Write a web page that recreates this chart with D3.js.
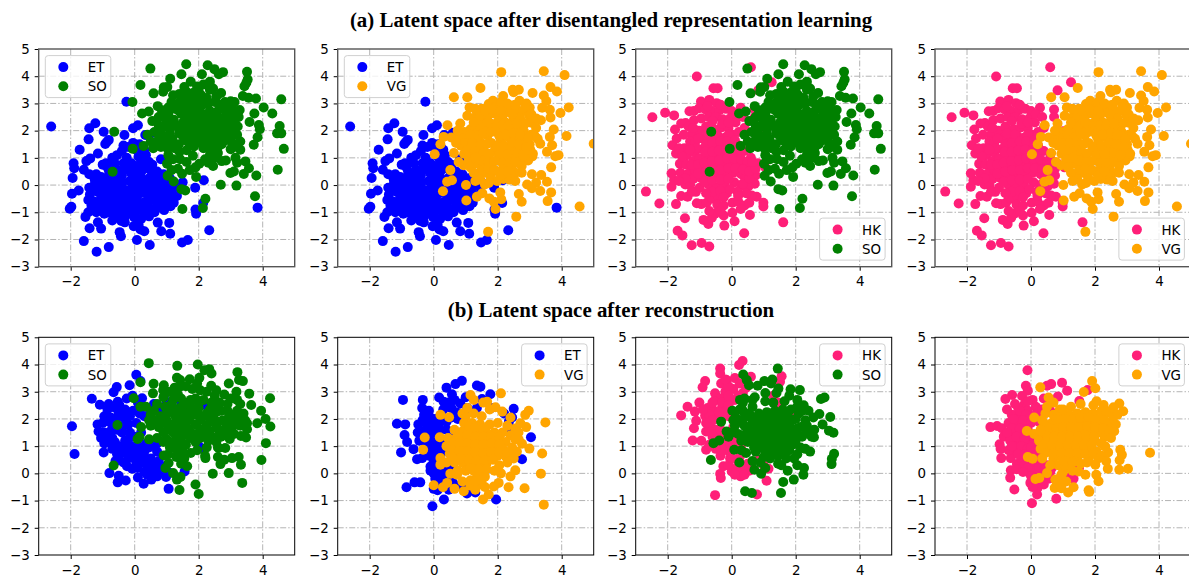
<!DOCTYPE html>
<html lang="en">
<head>
<meta charset="UTF-8">
<title>Latent space scatter plots</title>
<style>
    html, body { margin: 0; padding: 0; background: #fff; overflow: hidden; }
    .tick text { font-family: "DejaVu Sans", sans-serif; font-size: 13.4px; fill: #000; }
    .legend text { font-family: "DejaVu Sans", sans-serif; font-size: 13.4px; fill: #000; }
    .title { font-family: "Liberation Serif", serif; font-weight: bold; font-size: 20.9px; text-anchor: middle; fill: #000; }
    .grid line { stroke: #b4b4b4; stroke-width: 1; stroke-dasharray: 6 2 1.5 2; }
</style>
</head>
<body>
<div id="chart"></div>
<script src="https://d3js.org/d3.v7.min.js"></script>
<script>
// values, [x, y]
// upper row: the same four clouds are reused across the panels
const etTop = [[-2.61,2.15],[-0.26,3.06],[-1.23,2.27],[-1.42,2.09],[-0.97,1.96],[-1.44,1.68],[-0.81,1.66],[-0.92,1.51],[-0.87,1.58],[-1.72,1.3],[-1.15,1.16],[-1.39,0.98],[-1.51,0.88],[-1.91,0.8],[-1.89,0.62],[-1.59,0.56],[-1.94,0.26],[-1.96,-0.32],[-1.75,-0.2],[-2.03,-0.87],[-1.98,-0.8],[-1.54,-1.17],[-1.41,-1.59],[-1.15,-1.37],[-1.05,-1.6],[-1.59,-2.06],[-1.19,-2.45],[-0.81,-2.28],[-0.47,-1.73],[-0.43,-1.88],[0.07,-2.02],[0.47,-2.2],[1.48,-2.11],[1.66,-2.02],[2.33,-1.66],[1.11,-1.79],[0.83,-1.7],[1.08,-1.39],[0.3,-1.7],[0.18,-1.63],[-0.03,-1.51],[-0.31,-1.37],[3.84,-0.83],[1.9,-0.9],[1.92,-1.05],[2.14,-0.66],[1.89,-0.1],[2.16,0.18],[-0.32,1.84],[-0.05,2.09],[0.1,2.2],[0.33,1.84],[0.6,1.92],
[-1.0,0.75],[-0.9,0.8],[-0.7,1.0],[-0.55,1.1],[-0.4,1.25],[-0.35,1.45],[-0.2,1.4],[-0.05,1.55],[0.15,1.5],[0.3,1.3],[0.12,1.05],[0.28,0.98],[0.45,0.85],[0.82,0.95],[-0.28,0.6],[-0.55,0.55],[-0.8,0.5],[-1.3,0.35],[-1.42,0.4],[-1.2,0.4],[-1.05,0.3],[-0.85,0.25],[-0.62,0.3],[-0.4,0.35],[-0.12,0.45],[0.1,0.7],[0.3,0.6],[0.5,0.55],[0.7,0.5],[0.9,0.4],[1.1,0.25],[1.5,0.1],[1.4,-0.05],[-1.42,-0.1],[-1.25,0.02],[-1.05,0.05],[-0.82,0.0],[-0.6,0.08],[-0.38,0.1],[-0.15,0.15],[0.08,0.3],[0.25,0.2],[0.45,0.25],[0.68,0.18],[0.85,0.12],[1.02,0.02],[1.2,-0.1],[-1.4,-0.35],[-1.15,-0.25],[-0.95,-0.2],[-0.75,-0.25],[-0.52,-0.15],[-0.3,-0.18],[-0.1,-0.12],[0.12,-0.02],[0.32,-0.05],[0.55,-0.02],[0.75,-0.1],[0.95,-0.22],[1.15,-0.3],[1.32,-0.4],[-1.45,-0.55],[-1.28,-0.6],[-1.05,-0.48],[-0.88,-0.55],[-0.65,-0.5],[-0.42,-0.45],[-0.18,-0.42],[0.18,-0.3],[0.38,-0.32],[0.6,-0.28],[0.8,-0.42],[1.0,-0.55],[1.22,-0.65],[1.12,-0.78],[-1.3,-0.85],[-1.45,-1.0],[-1.2,-1.0],[-1.02,-0.82],[-0.82,-0.85],[-0.6,-0.78],[-0.35,-0.72],[-0.12,-0.65],[0.1,-0.6],[0.32,-0.62],[0.5,-0.55],[0.72,-0.68],[0.92,-0.92],[-0.95,-1.05],[-0.7,-1.05],[-0.45,-1.0],[-0.18,-0.95],[0.05,-0.88],[0.25,-0.95],[0.45,-0.82],[0.62,-1.0],[-0.7,-1.3],[-0.42,-1.32],[-0.02,-1.18],[0.2,-1.25],[0.45,-1.15],[0.72,-1.38],[0.12,-1.45],
[-1.3,-0.2],[-1.12,-0.65],[-0.9,-0.35],[-0.7,-0.1],[-0.5,-0.65],[-0.25,-0.3],[-0.02,-0.3],[0.2,-0.8],[0.42,0.05],[0.6,0.38],[0.2,0.48],[-0.02,0.05],[-0.95,0.15],[-0.72,0.42],[-0.48,0.2],[-0.25,-0.9],[0.5,-1.0],[0.0,0.6],[0.2,0.88],[0.35,1.1],[0.62,-0.42],[0.85,-0.2],[-1.15,-0.78],[-0.8,-1.0],[-0.55,-1.15],[-0.3,-1.15],[0.0,-1.05],[0.85,0.25],[0.55,0.75],[-0.85,0.65],[-0.62,0.8],[-0.25,1.0],[-0.1,0.8],[0.05,1.3],
[-1.35,-0.75],[-1.0,-0.65],[-0.75,-0.7],[-1.1,0.2],[-0.6,-0.32],[-0.38,-0.6],[-0.05,-0.5],[0.45,-0.15],[0.65,0.05],[0.95,-0.05],[1.05,-0.4],[0.9,-0.65],[0.68,-0.85],[0.3,-1.1],[-0.1,-0.8],[-0.45,-0.85],[-0.9,-0.9],[-0.55,-0.02],[-1.25,0.2],[0.25,0.05],[0.05,0.15],[-0.35,0.8],[-0.7,0.15],[0.75,0.35]];
const soTop = [[0.49,4.28],[1.61,4.44],[2.28,4.4],[2.49,4.26],[2.63,4.07],[2.76,4.15],[2.1,4.07],[1.46,4.07],[1.11,3.91],[3.51,4.16],[3.53,3.88],[3.49,3.76],[3.43,3.63],[0.18,3.68],[0.59,3.37],[-0.07,3.05],[0.91,3.59],[1.02,3.6],[0.89,3.43],[4.58,3.15],[3.38,3.27],[3.56,3.21],[3.79,3.18],[4.03,2.85],[4.3,2.63],[3.28,2.76],[3.74,2.63],[3.59,2.32],[3.88,2.21],[3.91,2.05],[3.84,1.76],[3.72,1.48],[4.53,2.17],[4.45,1.9],[4.58,1.9],[4.66,1.33],[4.47,0.56],[3.8,0.35],[3.76,-0.41],[3.18,-0.02],[2.69,0.01],[2.21,-0.5],[2.13,-0.84],[1.49,-0.88],[1.46,-0.15],[1.58,-0.2],[1.22,0.13],[1.03,0.34],[1.01,0.78],[-0.69,0.49],[-0.64,1.96],[-0.06,1.33],[0.23,2.63],[0.44,2.7],[0.28,1.44],[3.46,0.87],[3.57,0.62],[3.41,0.41],[2.99,0.44],[3.1,0.5],[3.2,0.82],
[1.4,3.35],[1.55,3.6],[1.75,3.8],[1.95,3.62],[2.15,3.7],[2.35,3.8],[2.45,3.55],[2.7,3.38],[1.2,3.3],[1.15,3.05],[1.62,3.2],[1.85,3.4],[2.08,3.3],[2.25,3.2],[2.55,3.25],[0.72,2.9],[0.85,2.75],[1.05,2.62],[1.3,2.9],[1.5,2.95],[1.72,3.0],[1.95,3.02],[2.12,2.95],[2.65,2.95],[2.82,3.05],[3.0,3.08],[3.12,3.05],[0.55,2.35],[0.75,2.5],[0.98,2.38],[1.22,2.4],[1.45,2.62],[1.65,2.7],[1.85,2.72],[2.08,2.65],[2.35,2.72],[2.58,2.7],[2.72,2.82],[2.95,2.7],[3.05,2.55],[0.62,1.95],[0.85,2.1],[1.1,2.05],[1.32,2.15],[1.52,2.32],[1.72,2.4],[1.92,2.42],[2.12,2.4],[2.32,2.45],[2.52,2.38],[2.72,2.45],[2.9,2.32],[3.12,2.32],[3.22,2.15],[0.4,1.85],[0.5,1.6],[0.72,1.62],[0.92,1.78],[1.18,1.7],[1.4,1.9],[1.6,2.0],[1.8,2.12],[2.0,2.1],[2.2,2.15],[2.42,2.12],[2.62,2.1],[2.82,2.12],[3.05,2.05],[3.2,1.85],[0.58,1.35],[0.82,1.4],[1.02,1.35],[1.38,1.5],[1.58,1.65],[1.78,1.78],[1.98,1.85],[2.18,1.82],[2.38,1.85],[2.58,1.8],[2.78,1.85],[2.98,1.68],[1.4,1.22],[1.62,1.28],[1.85,1.42],[2.05,1.55],[2.25,1.5],[2.48,1.52],[2.72,1.5],[3.1,1.4],[3.0,1.32],[3.3,1.3],[1.2,0.95],[1.42,0.95],[1.62,0.85],[1.82,1.08],[2.02,0.78],[2.3,0.82],[2.45,0.7],[2.6,1.18],[2.72,0.88],[2.85,0.9],[1.15,0.55],[1.35,0.6],[1.48,0.42],[1.72,0.55],[1.92,0.3],[2.5,1.0],[3.15,1.0],
[1.55,2.85],[1.75,2.85],[2.0,2.8],[2.25,2.6],[1.6,2.5],[1.8,2.55],[2.0,2.5],[2.45,2.55],[1.5,2.15],[1.7,2.2],[1.9,2.25],[2.1,2.25],[2.3,2.3],[2.55,2.25],[2.75,2.28],[1.5,1.8],[1.7,1.9],[1.9,2.0],[2.1,1.95],[2.3,2.0],[2.5,1.95],[2.7,1.95],[2.9,1.95],[1.7,1.55],[1.9,1.65],[2.15,1.7],[2.35,1.65],[2.6,1.62],[2.85,1.65],[2.15,1.35],[2.35,1.3],[2.6,1.4],[1.1,1.9],[0.95,1.6],[1.2,1.5],[1.25,2.25],[1.35,2.75],[1.0,2.25],[1.65,3.4],[2.0,3.45],[2.35,3.5],[2.3,3.0],
[0.75,2.2],[0.9,2.6],[1.15,2.8],[2.85,2.55],[3.1,2.75],[3.25,2.5],[3.0,1.85],[3.3,1.6],[3.05,1.55],[0.75,1.85],[1.05,1.1],[1.25,1.35],[1.05,2.85],[2.5,3.05],[2.9,2.85],[1.4,3.05],[2.05,3.15],[1.8,3.2],[2.35,1.1],[1.9,0.65],[2.2,0.95]];
const vgTop = [[2.11,4.15],[3.44,4.18],[4.09,4.04],[1.46,3.57],[2.47,3.5],[2.5,3.41],[2.66,3.5],[3.65,3.6],[3.85,3.44],[3.44,3.29],[3.52,3.09],[3.09,3.38],[0.63,3.23],[1.05,3.23],[2.17,3.27],[4.22,2.85],[3.39,2.84],[3.63,2.77],[3.65,2.48],[3.96,2.65],[3.35,2.38],[3.1,2.28],[3.75,2.04],[4.15,1.8],[3.63,1.77],[3.33,1.52],[3.7,1.46],[3.54,1.22],[3.8,1.06],[3.9,1.1],[5,1.52],[3.67,0.65],[3.07,0.4],[3.36,0.37],[3.54,0.12],[2.92,0.02],[3.2,0.09],[3.07,-0.12],[3.33,-0.22],[3.67,-0.27],[3.56,-0.59],[4.56,-0.79],[2.66,-0.33],[2.75,-0.61],[2.08,-0.27],[2.11,-0.52],[1.74,-0.49],[1.88,-0.61],[1.93,-0.88],[2.58,-1.16],[1.7,-1.72],[0.29,-0.23],[1.01,0],[1.02,-0.57],[0.42,0.12],[0.57,0.18],[0.52,0.55],[0.03,1.13],[0.63,1.18],[0.21,1.5],[0.31,1.77],[0.43,2.2],[0.83,2.26],[0.94,0.73],[0.78,0.85],[1.35,-0.43],[1.52,-0.3],[1.6,0.02],
[1.12,2.85],[1.05,2.55],[1.3,2.5],[1.5,2.8],[1.72,2.98],[1.85,3.1],[1.95,2.9],[2.22,2.85],[2.45,2.92],[2.68,3.1],[2.9,3.0],[3.0,2.85],[1.3,2.2],[1.5,2.35],[1.7,2.55],[1.92,2.62],[2.15,2.55],[2.35,2.68],[2.6,2.75],[2.8,2.72],[2.98,2.55],[3.02,2.3],[0.95,1.95],[1.15,2.05],[1.38,1.92],[1.6,2.1],[1.8,2.25],[2.02,2.35],[2.25,2.3],[2.5,2.4],[2.7,2.45],[2.85,2.25],[0.55,1.75],[0.78,1.75],[1.0,1.72],[1.22,1.62],[1.45,1.6],[1.68,1.82],[1.95,1.95],[2.2,2.0],[2.42,2.1],[2.62,2.05],[2.82,1.98],[3.05,1.85],[3.15,1.82],[0.85,1.45],[1.1,1.4],[1.3,1.38],[1.55,1.3],[1.8,1.55],[2.1,1.62],[2.35,1.75],[2.6,1.72],[2.78,1.6],[3.0,1.5],[3.02,1.3],[0.95,1.15],[1.2,1.15],[1.42,1.05],[1.65,1.0],[1.9,1.25],[2.18,1.28],[2.45,1.35],[2.72,1.3],[2.92,1.22],[3.08,1.05],[2.95,0.9],[1.1,0.95],[1.32,0.78],[1.55,0.7],[1.8,0.75],[2.02,0.92],[2.25,0.95],[2.5,1.05],[2.7,0.95],[1.38,0.38],[1.6,0.45],[1.78,0.3],[2.0,0.5],[2.2,0.65],[2.45,0.7],[2.55,0.45],[2.38,0.2],[1.98,0.15],[1.72,0.08],[2.18,0.22],[2.4,0.42],
[1.45,2.55],[1.6,2.72],[1.85,2.78],[2.1,2.75],[2.45,2.6],[1.45,2.15],[1.7,2.3],[1.95,2.15],[2.15,2.2],[2.35,2.2],[2.6,2.25],[1.15,1.85],[1.35,1.75],[1.55,1.9],[1.8,1.95],[2.05,1.8],[2.25,1.85],[2.5,1.9],[2.7,1.85],[2.95,1.7],[1.0,1.55],[1.2,1.55],[1.45,1.45],[1.65,1.5],[1.95,1.4],[2.2,1.45],[2.45,1.55],[2.65,1.5],[2.9,1.4],[1.05,1.28],[1.3,1.25],[1.55,1.15],[1.75,1.15],[2.05,1.1],[2.3,1.12],[2.6,1.15],[2.8,1.1],[1.5,0.9],[1.72,0.85],[1.9,0.88],[2.15,0.8],[2.35,0.78],[2.55,0.85],[1.5,0.55],[1.7,0.6],[1.9,0.55],[2.1,0.35],[2.3,0.5],
[2.85,2.85],[2.55,2.95],[3.05,2.6],[3.2,2.45],[3.2,2.1],[3.25,1.7],[3.1,1.15],[1.25,2.3],[1.3,2.8],[0.7,1.55],[0.75,2.0],[1.3,1.0],[1.15,0.65],[1.25,0.45],[2.1,3.05],[2.3,3.0],[2.75,0.7],[2.75,0.45],[2.55,0.15],[1.45,0.2],[1.3,0.15]];
const hkTop = [[-2.68,-0.24],[-2.26,-0.68],[-1.74,-0.7],[-2.48,2.49],[-2.08,2.66],[-1.8,2.56],[-1.09,3.99],[-0.57,3.56],[-0.44,3.56],[0.6,4.33],[1.25,3.78],[0.83,3.48],[-1.46,-1.22],[-1.69,-1.68],[-1.54,-1.85],[-1.25,-2.21],[-0.94,-2.13],[-0.7,-2.26],[-0.23,-1.49],[0.39,-1.77],[0.09,-1.33],[0.57,-1.1],[1.61,-1.37],[0.99,-0.65],[0.99,-0.79],[0.78,-0.43],[0.62,-0.38],[-0.73,-1.43],[-0.88,-1.28],[-0.62,-1.2],[-1.88,-0.06],[-1.8,0.18],[-1.88,0.43],[-1.58,-0.4],[-1.38,-0.43],[-1.09,-0.67],[-1.85,1.46],[-1.74,1.16],[-1.72,1.71],[-1.77,2.04],[-1.58,2.26],[-1.44,2.28],[-1.32,2.71],[-0.96,3.07],[-0.7,3.13],[-0.47,3.01],[0.28,2.84],[0.72,2.78],[0.72,2.5],[1.0,1.98],[1.05,0.65],[0.75,0.35],
[-1.18,2.72],[-1.02,2.82],[-0.82,2.78],[-0.62,2.72],[-0.38,2.75],[-0.18,2.8],[0.0,2.72],[-1.35,2.15],[-1.18,2.38],[-0.95,2.45],[-0.72,2.5],[-0.5,2.5],[-0.28,2.42],[-0.05,2.45],[0.12,2.3],[-1.25,1.85],[-1.02,2.0],[-0.8,2.15],[-0.55,2.05],[-0.32,2.12],[-0.1,2.1],[-1.48,1.35],[-1.3,1.6],[-1.15,1.55],[-0.9,1.7],[-0.62,1.72],[-0.42,1.8],[-0.2,1.75],[0.02,1.85],[0.22,1.95],[-1.4,1.1],[-1.15,1.2],[-0.92,1.32],[-0.72,1.42],[-0.48,1.42],[-0.25,1.45],[-0.02,1.5],[0.22,1.45],[-1.62,0.78],[-1.42,0.75],[-1.2,0.88],[-1.0,0.98],[-0.78,1.05],[-0.55,1.08],[-0.3,1.12],[-0.08,1.18],[0.18,1.1],[0.4,1.25],[0.6,1.0],[0.82,0.8],[-1.6,0.45],[-1.35,0.42],[-1.15,0.55],[-0.92,0.62],[-0.7,0.7],[-0.48,0.72],[-0.25,0.78],[0.0,0.82],[0.22,0.8],[0.45,0.72],[0.62,0.6],[-1.45,0.02],[-1.3,0.0],[-1.2,0.22],[-0.95,0.25],[-0.72,0.35],[-0.48,0.38],[-0.2,0.4],[0.05,0.45],[0.3,0.4],[0.42,0.25],[0.72,0.05],[-1.12,-0.25],[-1.0,-0.1],[-0.72,0.02],[-0.48,-0.08],[-0.22,0.0],[0.08,0.1],[0.3,-0.02],[0.52,-0.05],[-0.95,-0.7],[-0.78,-0.65],[-0.62,-0.5],[-0.42,-0.42],[-0.15,-0.3],[0.18,-0.25],[0.45,-0.3],[-0.45,-0.72],[-0.25,-0.75],[0.02,-0.65],[0.2,-0.6],[0.4,-0.75],[0.55,-0.65],[-0.52,-1.05],[-0.25,-1.12],[0.02,-1.02],[0.28,-0.88],
[-0.6,2.35],[-0.3,2.25],[-0.1,2.3],[-0.75,1.9],[-0.5,1.85],[-0.1,1.85],[-1.05,1.7],[-0.8,1.5],[-0.6,1.55],[-0.35,1.6],[-0.15,1.6],[0.1,1.65],[-1.1,1.35],[-1.3,1.3],[-0.82,1.22],[-0.6,1.22],[-0.4,1.28],[-0.18,1.3],[0.05,1.25],[0.3,1.25],[-1.25,0.75],[-1.05,0.75],[-0.85,0.82],[-0.62,0.88],[-0.38,0.92],[-0.15,0.98],[0.08,0.98],[0.3,0.95],[0.5,0.85],[-1.05,0.42],[-0.8,0.5],[-0.58,0.55],[-0.35,0.55],[-0.1,0.62],[0.12,0.62],[0.35,0.58],[-0.85,0.12],[-0.6,0.18],[-0.35,0.2],[-0.1,0.22],[-0.6,-0.25],[-0.35,-0.22],[-0.05,-0.15],
[-1.55,1.05],[-1.65,1.35],[-1.5,1.85],[-1.2,2.1],[-0.75,2.9],[-0.35,2.95],[0.15,2.6],[0.35,2.5],[0.4,2.1],[-1.45,0.25],[-1.65,0.15],[-1.25,-0.25],[-0.8,-0.3],[-0.25,-0.45],[0.35,0.05],[0.55,0.25],[0.55,0.5],[0.75,0.6],[0.65,0.85],[0.2,-0.4],[-0.7,-0.95],[-0.35,-0.95]];

// lower row: each panel has its own pair of clouds
const etLow1 = [[0.05,3.62],[0.18,3.39],[-0.16,3.24],[-0.56,3.17],[-0.66,2.98],[-1.34,2.74],[-1.09,2.52],[-0.81,2.55],[-0.53,2.63],[-0.48,2.51],[-0.07,2.85],[0.23,2.76],[-1.96,1.73],[-1.88,0.71],[-1.16,1.8],[-1.13,1.54],[-0.79,0.01],[-0.5,-0.09],[-0.53,-0.33],[-0.28,-0.26],[0.28,-0.38],[0.52,-0.23],[1.06,-0.57],[-0.97,0.77],[-0.81,1.17],[-0.89,2.09],[0.91,2.82],[-0.24,0.26],[-0.08,0.17],[0.09,0.2],[0.39,-0.05],[0.7,-0.11],[0.98,-0.13],[1.56,0.07],[-0.85,2.35],[-0.8,1.9],[-0.95,1.5],[-0.7,1.3],[-0.55,1.6],[-0.35,2.05],[-0.2,1.8],[-0.05,2.3],[0.1,2.6],[0.15,2.2],[-0.7,0.9],[-0.5,1.0],[-0.3,1.2],[-0.5,0.55],[-0.3,0.75],[-0.1,1.0],[-0.6,1.95],[-0.4,1.5],[-0.15,1.5],[0.05,1.85],[0.1,1.0],[0.3,0.8],[0.25,0.4],[0.5,0.55],[0.45,0.95],[0.7,0.8],[0.75,0.45],[0.6,2.55],[0.8,2.4],[1.0,2.6],[1.45,2.6],[1.7,2.5],[2.2,2.5],[2.5,2.3],[1.5,2.2],[2.0,1.0],[2.15,0.9],
[-0.95,1.1],[-0.75,1.55],[-0.62,1.15],[-0.45,0.8],[-0.55,0.7],[-0.35,0.95],[-0.2,0.55],[-0.05,0.6],[0.1,0.7],[0.0,1.35],[-0.2,1.25],[-0.35,1.75],[-0.15,2.1],[0.1,2.35],[0.3,2.1],[-0.7,1.65],[-0.85,1.35],[-0.75,2.05],[-0.5,2.2],[-0.3,2.35],[0.2,1.5],[0.15,0.5],[0.4,0.25],[0.6,0.2],[0.8,0.3],[0.55,1.05],[0.7,1.1],[0.35,1.1],[-0.1,0.85],[0.05,0.4],
[-1.0,1.85],[-1.05,1.3],[-0.95,2.1],[-0.6,2.4],[-0.25,2.75],[0.3,2.45],[0.5,2.3],[-0.6,0.45],[-0.35,0.4],[0.1,-0.15],[0.3,0.05],[0.55,0.0],[0.5,0.35],[0.8,0.05],[1.05,0.05],[0.25,0.6]];
const soLow1 = [[0.44,4.05],[1.33,3.95],[1.97,4.0],[2.33,3.83],[2.4,3.67],[2.18,3.79],[3.21,3.72],[3.26,3.43],[3.38,3.39],[1.32,3.51],[1.42,3.43],[1.72,3.46],[2.02,3.51],[1.95,3.3],[0.18,3.35],[0.59,3.29],[0.91,3.24],[2.94,3.3],[2.39,3.22],[0.57,2.94],[0.89,3.06],[-0.03,2.76],[3.18,3.0],[3.58,2.93],[4.23,2.76],[3.64,2.51],[3.95,2.3],[4.09,2.0],[3.83,1.84],[4.24,1.72],[4.1,1.11],[3.96,0.49],[3.48,1.32],[3.32,1.37],[3.51,1.84],[3.51,1.62],[3.32,0.32],[3.36,-0.35],[2.94,0.01],[2.44,-0.01],[1.9,-0.41],[2,-0.76],[1.4,-0.61],[1.43,-0.13],[1.32,-0.23],[1.2,0.01],[-0.66,0.29],[-0.54,1.78],[0.09,1.26],[0.18,2.45],[0.35,2.45],[3.25,0.6],[3.04,0.56],[2.68,0.34],[2.21,0.56],[1.64,0.26],[0.96,0.2],[1.06,0.38],[0.91,0.66],[2.83,0.93],[2.63,0.93],[2.97,1.26],[2.94,1.48],
[1.1,3.0],[1.25,3.15],[1.35,2.9],[1.6,3.2],[1.8,3.1],[2.25,3.0],[2.5,2.85],[2.8,2.9],[3.2,2.7],[3.3,2.55],[1.2,2.7],[1.45,2.75],[1.9,2.75],[2.15,2.7],[2.65,2.6],[2.9,2.55],[0.7,2.55],[0.95,2.45],[1.15,2.35],[1.4,2.4],[1.75,2.45],[2.0,2.4],[2.35,2.35],[2.7,2.3],[3.05,2.15],[3.4,2.2],[0.5,2.15],[0.8,2.1],[1.0,1.95],[1.3,2.0],[1.55,2.1],[1.85,2.15],[2.15,2.1],[2.45,2.05],[2.75,1.95],[3.2,1.95],[3.3,1.75],[0.2,1.7],[0.5,1.75],[0.75,1.7],[1.05,1.6],[1.35,1.65],[1.6,1.75],[1.9,1.8],[2.25,1.75],[2.55,1.7],[2.85,1.7],[3.05,1.7],[0.15,1.35],[0.45,1.25],[0.7,1.3],[1.0,1.25],[1.3,1.3],[1.55,1.4],[1.85,1.45],[2.15,1.45],[2.4,1.35],[2.7,1.35],[1.2,0.95],[1.4,0.9],[1.6,1.05],[1.9,1.15],[2.25,0.95],[1.05,0.7],[1.3,0.6],[1.55,0.55],[1.45,0.35],[2.6,0.6],[2.8,0.5],
[0.9,2.8],[1.15,2.55],[1.55,2.55],[1.75,2.7],[2.0,2.6],[2.4,2.6],[2.6,2.4],[1.0,2.2],[1.25,2.15],[1.5,2.25],[1.7,2.25],[1.95,2.2],[2.25,2.2],[2.55,2.25],[2.9,2.3],[0.65,1.95],[0.9,1.85],[1.15,1.8],[1.45,1.85],[1.7,1.95],[2.05,1.95],[2.35,1.9],[2.6,1.9],[2.9,1.95],[0.9,1.5],[1.2,1.5],[1.45,1.55],[1.7,1.6],[2.05,1.6],[2.35,1.55],[2.65,1.55],[2.85,1.4],[1.45,1.15],[1.75,1.3],[2.05,1.3],[2.3,1.2],[2.55,1.3],[1.2,1.15],[1.1,0.95],[1.35,0.75],[1.5,0.8],[2.55,1.15],[3.0,2.0],
[0.45,1.95],[0.6,2.3],[0.95,2.95],[1.45,3.2],[2.05,3.05],[2.55,3.05],[3.0,2.75],[3.2,2.3],[3.1,1.45],[2.2,0.65],[2.6,0.95],[1.75,0.75],[1.95,0.85],[0.9,1.15],[3.2,2.05],[3.45,1.95],[2.95,2.1]];
const etLow2 = [[0.88,3.4],[0.68,3.28],[0.4,3.15],[0.57,2.91],[1.35,3.23],[1.46,3.18],[1.77,2.91],[-0.96,2.7],[-0.34,2.7],[0.17,2.79],[0.31,2.63],[0.83,2.57],[1.51,2.73],[2.5,2.37],[2.45,2.05],[-1.15,1.82],[-0.89,1.8],[-0.91,1.41],[-0.83,1.15],[-1.02,0.77],[-0.63,0.89],[-0.52,0.52],[-0.36,0.56],[3.04,1.33],[2.55,1.33],[2.76,0.52],[-0.85,-0.51],[-0.6,-0.33],[-0.42,-0.33],[0,-0.57],[0.12,-0.62],[0.32,-0.96],[-0.04,-1.21],[1.95,-0.96],[1.04,-0.74],[1.3,-0.7],[0.83,-0.44],[0.47,-0.6],
[-0.36,2.4],[-0.3,2.15],[-0.15,2.3],[-0.48,1.8],[-0.2,1.9],[0.05,2.0],[0.3,2.35],[0.55,2.4],[0.7,2.25],[-0.5,1.5],[-0.3,1.55],[-0.1,1.6],[0.15,1.75],[-0.45,1.2],[-0.25,1.1],[-0.05,1.3],[0.15,1.5],[-0.1,0.9],[0.1,1.05],[0.05,0.65],[0.25,0.75],[-0.1,0.25],[0.1,0.4],[0.0,0.0],[0.15,0.1],[0.05,-0.2],[0.25,-0.3],[0.4,-0.1],[0.4,1.9],[1.05,2.4],[1.8,2.4],[2.2,2.2],[2.35,1.9],
[-0.35,1.95],[-0.2,1.7],[0.0,1.75],[-0.35,1.35],[-0.1,1.4],[0.1,1.3],[0.3,1.2],[-0.25,0.9],[-0.05,1.05],[0.2,0.95],[-0.15,0.65],[0.0,0.45],[0.15,0.55],[0.3,0.2],[0.1,-0.05],[0.2,-0.45],[0.55,2.05],[0.4,1.6],[0.2,2.1],[0.75,2.0],[0.45,2.6],[0.8,2.2],[-0.1,2.05],
[0.5,1.3],[0.35,0.95],[0.5,0.2],[0.3,-0.05],[0.6,-0.35],[0.35,-0.35],[0.9,-0.5],[-0.1,0.1],[0.05,1.0],[0.3,2.0],[0.65,2.7],[1.0,2.8],[1.35,2.4],[2.45,1.55]];
const vgLow2 = [[2.1,2.94],[1.15,2.88],[1.25,2.7],[2.97,2.3],[2.86,2.15],[3.49,1.87],[2.89,1.7],[2.71,1.84],[0.21,2.15],[0.48,2.06],[-0.28,1.32],[-0.33,0.87],[0.19,1.33],[2.99,0.91],[3.39,0.73],[3.35,-0.01],[3.44,-1.15],[2.84,-0.55],[2.34,-0.51],[2.4,-0.11],[2.55,0.11],[2.66,1.23],[2.76,1.09],[1.54,-0.96],[1.72,-0.78],[2.03,-0.35],[1.88,-0.48],[0,-0.44],[0.29,-0.51],[0.42,-0.35],[0.65,-0.57],[0.94,-0.66],[0.52,-0.01],[0.73,-0.05],[0.21,0.32],[0.21,0.56],[1.67,2.63],[1.93,2.43],[2.14,2.27],[1.55,2.6],[1.75,2.35],
[1.0,2.1],[1.25,2.2],[1.5,2.1],[0.95,1.85],[1.2,1.85],[1.45,1.8],[1.75,1.8],[2.0,1.85],[2.3,1.75],[2.55,1.65],[0.65,1.6],[0.9,1.55],[1.15,1.55],[1.4,1.5],[1.65,1.5],[1.9,1.5],[2.15,1.5],[2.4,1.4],[0.45,1.3],[0.7,1.3],[0.95,1.25],[1.2,1.25],[1.45,1.2],[1.7,1.25],[1.95,1.2],[2.25,1.15],[0.4,1.0],[0.65,1.0],[0.9,0.95],[1.15,0.95],[1.4,0.9],[1.65,0.95],[1.9,0.9],[2.15,0.9],[2.45,0.95],[0.5,0.72],[0.75,0.7],[1.0,0.65],[1.25,0.65],[1.5,0.6],[1.75,0.65],[2.0,0.65],[2.25,0.62],[2.45,0.7],[0.4,0.4],[0.65,0.4],[0.9,0.38],[1.15,0.35],[1.4,0.32],[1.65,0.35],[2.05,0.3],[2.3,0.4],[1.0,0.1],[1.25,0.1],[1.5,0.08],[1.35,-0.15],[1.6,-0.12],[1.15,-0.25],[1.45,-0.4],[1.3,-0.6],[1.15,-0.45],[1.6,-0.5],[2.1,0.0],
[1.1,1.7],[1.3,1.7],[1.55,1.65],[0.8,1.4],[1.05,1.4],[1.3,1.35],[1.55,1.35],[1.8,1.35],[2.05,1.35],[0.55,1.15],[0.8,1.1],[1.05,1.1],[1.3,1.05],[1.55,1.05],[1.8,1.1],[2.05,1.05],[0.55,0.85],[0.8,0.82],[1.05,0.8],[1.3,0.78],[1.55,0.75],[1.8,0.78],[2.05,0.78],[2.3,0.78],[0.6,0.55],[0.85,0.55],[1.1,0.5],[1.35,0.48],[1.6,0.48],[1.85,0.5],[1.15,0.2],[1.4,0.15],[1.65,0.15],[1.3,-0.3],[1.5,-0.25],
[2.65,1.5],[0.9,2.2],[1.05,2.4],[2.4,2.05],[2.55,1.25],[2.6,0.8],[2.5,0.55],[1.9,0.1],[0.9,-0.3],[0.75,0.1]];
const hkLow3 = [[0.34,4.13],[0.23,3.98],[-0.36,3.85],[-0.36,3.67],[1.56,3.57],[1.51,3.37],[0.6,3.55],[-0.83,3.39],[-0.91,3.16],[-0.16,3.43],[-0.33,3.3],[-1.38,2.45],[-1.58,2.13],[-1.01,2.6],[-1.15,2.27],[-1.11,1.93],[-1.18,1.66],[-1.22,1.21],[-0.8,0.87],[-0.83,2.12],[-0.8,1.54],[-0.52,2.94],[-0.52,-0.8],[-0.36,-0.02],[-0.34,-0.17],[0.28,-0.11],[1.09,-0.27],[0.79,-0.78],[0,0.07],[0.16,0.2],[-0.26,0.26],[1.15,0.17],
[0.1,3.5],[0.25,3.3],[0.05,3.1],[-0.2,3.0],[0.35,2.95],[-0.35,2.75],[-0.55,2.65],[-0.75,2.4],[-0.55,2.3],[-0.3,2.45],[-0.05,2.65],[-0.5,2.0],[-0.25,2.1],[-0.65,1.75],[-0.45,1.6],[-0.6,1.35],[-0.35,1.3],[-0.15,1.1],[-0.15,0.85],[-0.35,0.65],[-0.05,0.55],[-0.1,0.3],[0.25,0.6],[1.3,2.85],[1.45,2.6],[2.0,2.15],[2.35,1.5],[0.85,0.5],[1.0,0.3],[0.55,0.1],
[-0.1,3.2],[0.2,2.85],[-0.3,2.6],[-0.15,2.35],[-0.7,2.15],[-0.6,1.95],[-0.4,2.25],[-0.7,1.55],[-0.55,1.45],[-0.35,1.6],[-0.5,1.2],[-0.2,1.3],[-0.3,1.0],[-0.05,1.1],[-0.3,0.85],[-0.05,0.8],[0.15,0.95],[0.2,0.3],[0.1,2.7],[-0.1,2.85],[0.0,0.55],[0.3,0.15],
[-0.6,2.6],[-0.8,1.85],[-0.95,1.2],[-0.1,2.1],[-0.2,1.5],[0.05,1.7],[0.1,1.2],[0.3,0.9],[-0.5,0.9],[-0.7,1.05],[0.5,0.35],[0.1,-0.05],[0.4,-0.05],[-0.2,3.45],[0.45,3.15],[-0.1,2.5],[-0.9,2.35]];
const soLow3 = [[1.44,3.85],[0.36,3.63],[0.47,3.43],[0.54,3.24],[0.81,3.22],[1.02,3.39],[1.27,3.45],[1.23,3.3],[1.46,3.12],[1.84,3.09],[2.13,3.06],[2.79,2.73],[2.9,2.79],[2.74,2.18],[3.08,2.07],[2.84,1.8],[3.04,1.57],[3.18,1.49],[2.58,1.6],[2.57,1.33],[3.2,0.72],[3.13,0.54],[3.12,0.34],[2.45,0.8],[2.24,-0.05],[2.26,0.2],[1.94,-0.23],[1.61,-0.32],[1.54,-0.72],[0.63,-0.72],[0.42,-0.66],[0.92,-0.01],[0.71,0.13],[0.24,0.4],[-0.65,0.49],[0.08,0.87],[-0.57,1.11],[-0.39,1.21],[-0.33,1.9],[-0.16,1.54],[0.26,2.7],[0.02,2.3],
[0.4,2.75],[0.72,2.8],[1.05,2.95],[1.05,2.65],[1.3,2.6],[1.65,2.65],[1.8,2.85],[2.05,2.7],[2.25,2.5],[2.4,2.3],[2.55,2.05],[0.12,2.05],[0.4,2.05],[0.65,2.45],[0.85,2.2],[1.1,2.25],[1.35,2.3],[1.6,2.35],[1.85,2.35],[2.1,2.2],[2.3,1.95],[0.1,1.75],[0.4,1.75],[0.65,1.9],[0.9,1.85],[1.15,1.9],[1.4,1.95],[1.65,1.95],[1.9,1.95],[2.15,1.7],[2.35,1.5],[-0.1,1.35],[0.2,1.45],[0.45,1.45],[0.7,1.55],[0.95,1.55],[1.2,1.6],[1.45,1.6],[1.7,1.6],[1.95,1.5],[2.2,1.35],[0.5,1.15],[0.75,1.2],[1.0,1.25],[1.25,1.25],[1.5,1.3],[1.75,1.25],[2.0,1.2],[2.15,0.95],[0.45,0.75],[0.75,0.8],[1.0,0.9],[1.25,0.9],[1.55,0.95],[1.8,0.85],[2.05,0.7],[0.65,0.45],[0.9,0.4],[1.2,0.55],[1.45,0.65],[1.7,0.55],[1.95,0.55],[1.05,0.2],[1.55,0.3],[1.75,0.1],[2.05,0.3],
[0.55,2.2],[0.8,2.05],[1.0,2.1],[1.25,2.1],[1.5,2.15],[1.75,2.15],[2.0,2.0],[0.25,1.9],[0.55,1.6],[0.8,1.7],[1.05,1.7],[1.3,1.75],[1.55,1.78],[1.8,1.78],[2.05,1.65],[0.6,1.3],[0.85,1.35],[1.1,1.4],[1.35,1.42],[1.6,1.45],[1.85,1.42],[2.1,1.4],[0.9,1.05],[1.15,1.08],[1.4,1.1],[1.62,1.1],[1.9,1.05],[1.15,0.72],[1.4,0.78],[1.65,0.78],[0.3,1.2],[0.35,2.3],
[0.05,1.95],[0.0,1.5],[0.25,2.35],[0.65,2.7],[1.4,2.95],[2.05,2.45],[2.35,1.75],[2.5,1.35],[2.3,0.9],[0.7,0.95],[0.3,0.85],[1.0,0.6],[1.45,0.35],[0.35,2.6],[2.2,2.3]];
const hkLow4 = [[-0.11,3.79],[0.97,3.33],[0.63,3.28],[0.5,3.22],[-0.16,3.22],[-0.1,3.04],[1.13,3.04],[1.77,3.06],[-0.59,2.88],[-0.8,2.73],[-0.28,2.84],[-1.27,1.7],[-1.06,1.74],[-0.91,1.66],[-0.85,1.35],[-0.98,1.07],[-0.95,0.9],[-0.93,0.56],[-0.63,0.56],[-0.44,0.34],[-0.63,0.11],[-0.65,-0.16],[-0.52,-0.59],[0.19,-0.78],[0.03,-1.1],[0.79,-0.93],[-0.02,-0.35],[0.4,-0.41],[1.33,-0.2],[0.84,2.82],[1.51,2.66],
[0.05,2.7],[-0.2,2.55],[-0.4,2.4],[-0.1,2.3],[0.15,2.45],[0.4,2.75],[0.65,2.6],[-0.6,2.15],[-0.35,2.1],[-0.1,2.0],[0.15,2.15],[-0.7,1.85],[-0.45,1.8],[-0.2,1.75],[-0.55,1.5],[-0.3,1.5],[-0.05,1.3],[-0.65,1.2],[-0.4,1.15],[-0.15,1.05],[-0.5,0.85],[-0.25,0.85],[0.02,0.8],[-0.3,0.55],[-0.05,0.55],[0.2,0.65],[-0.2,0.3],[0.05,0.3],[0.3,0.4],[0.5,0.3],[-0.1,0.05],[0.15,0.1],[0.4,0.05],[0.2,-0.2],[0.65,0.2],[0.95,-0.1],[1.15,-0.15],[1.5,0.2],
[-0.35,2.3],[-0.15,2.15],[-0.55,2.0],[-0.25,1.95],[0.0,1.85],[0.25,1.9],[-0.6,1.65],[-0.35,1.65],[-0.1,1.6],[-0.45,1.35],[-0.2,1.3],[0.05,1.05],[-0.55,1.0],[-0.3,1.0],[-0.1,0.9],[0.15,0.85],[-0.4,0.7],[-0.18,0.7],[0.1,0.45],[0.25,0.25],[-0.1,0.2],[0.3,0.55],[0.0,-0.1],[0.3,-0.3],[0.45,0.2],[0.6,0.05],[0.25,0.95],[0.25,1.3],[0.2,2.2],[0.35,2.35],
[-0.75,1.5],[-0.7,0.85],[-0.75,2.35],[-0.5,2.55],[-0.6,1.0],[-0.45,0.15],[-0.25,0.05],[0.0,0.95],[-0.1,2.65],[0.6,2.3],[0.2,-0.55],[0.05,-0.5],[0.55,-0.2]];
const vgLow4 = [[1.91,3.39],[2.01,3.13],[1.65,2.99],[0.29,3.16],[0.55,2.79],[2.76,2.57],[2.88,2.28],[2.58,2.43],[2.27,2.51],[0.1,2.05],[-0.13,1.56],[0.1,1.45],[-0.1,0.6],[0.05,0.54],[3.72,0.76],[2.79,0.87],[2.84,0.68],[2.77,0.48],[2.76,0.13],[3.03,0.17],[2.4,0.17],[2.11,-0.29],[2.04,-0.05],[1.8,-0.62],[1.82,-0.68],[1.33,-0.51],[1.16,-0.7],[0.74,-0.54],[0.76,-0.23],[0.5,0.01],[0.26,-0.17],[0.14,-0.21],[2.32,0.99],[2.41,0.77],[2.01,0.32],[1.7,-0.05],[1.49,0.07],[1.23,0.2],
[0.7,2.6],[0.9,2.35],[1.25,2.45],[1.55,2.55],[1.95,2.5],[2.05,2.65],[2.5,2.2],[2.7,2.15],[0.45,2.2],[0.7,2.15],[0.95,2.1],[1.2,2.15],[1.45,2.2],[1.7,2.25],[1.95,2.2],[2.25,2.1],[2.55,1.95],[2.65,1.8],[0.4,1.85],[0.65,1.85],[0.9,1.8],[1.15,1.85],[1.4,1.85],[1.65,1.9],[1.9,1.85],[2.15,1.8],[2.4,1.7],[2.6,1.55],[0.35,1.5],[0.6,1.5],[0.85,1.5],[1.1,1.5],[1.35,1.5],[1.6,1.55],[1.85,1.55],[2.1,1.5],[2.3,1.35],[0.25,1.2],[0.5,1.2],[0.75,1.2],[1.0,1.2],[1.25,1.2],[1.5,1.2],[1.75,1.2],[2.0,1.2],[2.2,1.1],[0.3,0.9],[0.55,0.85],[0.8,0.9],[1.05,0.9],[1.3,0.9],[1.55,0.9],[1.8,0.85],[2.05,0.8],[0.7,0.55],[0.95,0.6],[1.2,0.55],[1.45,0.55],[1.8,0.5],[2.1,0.55],[0.85,0.3],[1.0,0.05],[1.1,-0.3],[0.85,-0.35],[0.95,-0.55],[1.05,0.3],
[0.8,1.98],[1.05,2.0],[1.3,2.0],[1.55,2.05],[1.8,2.05],[2.05,2.0],[2.3,1.95],[0.55,1.68],[0.8,1.65],[1.0,1.68],[1.25,1.68],[1.5,1.7],[1.75,1.72],[2.0,1.68],[2.25,1.65],[0.5,1.35],[0.72,1.35],[0.98,1.35],[1.22,1.35],[1.48,1.35],[1.72,1.38],[1.98,1.35],[0.4,1.05],[0.65,1.05],[0.9,1.05],[1.15,1.05],[1.4,1.05],[1.65,1.05],[1.9,1.05],[0.45,0.75],[0.7,0.72],[0.95,0.75],[1.2,0.75],[1.45,0.75],[1.7,0.7],[1.95,0.72],[1.05,0.45],[1.3,0.4],[1.55,0.35],[1.75,0.4],
[0.5,2.45],[1.0,2.35],[2.2,2.3],[2.35,2.3],[2.45,1.55],[2.5,1.3],[2.3,1.0],[2.2,0.65],[2.35,0.45],[0.35,0.55],[0.3,1.6],[0.35,1.95],[1.3,0.1],[0.95,-0.05],[0.6,0.3]];

const colors = { ET: "#0000ff", SO: "#008000", VG: "#ffa500", HK: "#ff1f78" };
const xTicks = [-2, 0, 2, 4];
const yTicks = [-3, -2, -1, 0, 1, 2, 3, 4, 5];
const titles = ["(a) Latent space after disentangled representation learning", "(b) Latent space after reconstruction"];

const panelLefts = [38.7, 337.7, 635.7, 935];
const rowTops = [49, 337.3];

const panels = [
    { col: 0, row: 0, names: ["ET", "SO"], clouds: [etTop, soTop], legend: "ul" },
    { col: 1, row: 0, names: ["ET", "VG"], clouds: [etTop, vgTop], legend: "ul" },
    { col: 2, row: 0, names: ["HK", "SO"], clouds: [hkTop, soTop], legend: "lr" },
    { col: 3, row: 0, names: ["HK", "VG"], clouds: [hkTop, vgTop], legend: "lr" },
    { col: 0, row: 1, names: ["ET", "SO"], clouds: [etLow1, soLow1], legend: "ul" },
    { col: 1, row: 1, names: ["ET", "VG"], clouds: [etLow2, vgLow2], legend: "ur" },
    { col: 2, row: 1, names: ["HK", "SO"], clouds: [hkLow3, soLow3], legend: "ur" },
    { col: 3, row: 1, names: ["HK", "VG"], clouds: [hkLow4, vgLow4], legend: "ur" }
];

const width = 1189;
const height = 576;
const plotW = 256;
const plotH = 217.7;
const pointR = 5;

const svg = d3.select("#chart").append("svg")
    .attr("width", width)
    .attr("height", height)
    .style("display", "block");

svg.append("text").attr("class", "title").attr("x", 611).attr("y", 27).text(titles[0]);
svg.append("text").attr("class", "title").attr("x", 611).attr("y", 317).text(titles[1]);

const x = d3.scaleLinear().domain([-3, 5]).range([0, plotW]);
const y = d3.scaleLinear().domain([-3, 5]).range([plotH, 0]);

panels.forEach((p, i) => {
    const spine = p.row === 0 ? "#555" : "#000";
    const g = svg.append("g")
        .attr("transform", `translate(${panelLefts[p.col]},${rowTops[p.row]})`);

    const clipId = `clip-${i}`;
    g.append("clipPath").attr("id", clipId)
        .append("rect").attr("width", plotW).attr("height", plotH);

    // grid
    const grid = g.append("g").attr("class", "grid");
    grid.selectAll(".gx").data(xTicks).enter().append("line")
        .attr("x1", d => x(d)).attr("x2", d => x(d))
        .attr("y1", 0).attr("y2", plotH);
    grid.selectAll(".gy").data(yTicks.slice(1, -1)).enter().append("line")
        .attr("x1", 0).attr("x2", plotW)
        .attr("y1", d => y(d)).attr("y2", d => y(d));

    // points
    const marks = g.append("g").attr("clip-path", `url(#${clipId})`);
    p.clouds.forEach((cloud, k) => {
        marks.append("g").selectAll("circle")
            .data(cloud)
            .enter().append("circle")
            .attr("cx", d => x(d[0]))
            .attr("cy", d => y(d[1]))
            .attr("r", pointR)
            .attr("fill", colors[p.names[k]]);
    });

    // axes
    const xAxis = g.append("g")
        .attr("transform", `translate(0,${plotH})`)
        .call(d3.axisBottom(x).tickValues(xTicks).tickFormat(d3.format("d")).tickSize(4).tickPadding(6));
    const yAxis = g.append("g")
        .call(d3.axisLeft(y).tickValues(yTicks).tickFormat(d3.format("d")).tickSize(4).tickPadding(5));
    [xAxis, yAxis].forEach(a => {
        a.select(".domain").remove();
        a.attr("font-family", null).attr("font-size", null);
        a.selectAll(".tick line").attr("stroke", "#000");
    });

    // spines
    g.append("rect")
        .attr("width", plotW).attr("height", plotH)
        .attr("fill", "none")
        .attr("stroke", spine)
        .attr("stroke-width", p.row === 0 ? 1.4 : 1);

    // legend
    const boxW = 65.5;
    const boxH = 42;
    const lx = p.legend === "ul" ? 6.6 : plotW - boxW - 6.6;
    const ly = p.legend === "lr" ? plotH - boxH - 6.6 : 6.6;
    const legend = g.append("g").attr("class", "legend")
        .attr("transform", `translate(${lx},${ly})`);
    legend.append("rect")
        .attr("width", boxW).attr("height", boxH).attr("rx", 3)
        .attr("fill", "#fff").attr("fill-opacity", 0.8)
        .attr("stroke", "#d0d0d0").attr("stroke-width", 1);
    p.names.forEach((name, k) => {
        const rowY = 11.5 + k * 19.2;
        legend.append("circle")
            .attr("cx", 18).attr("cy", rowY).attr("r", pointR)
            .attr("fill", colors[name]);
        legend.append("text")
            .attr("x", 42.5).attr("y", rowY + 5)
            .text(name);
    });
});
</script>
</body>
</html>
